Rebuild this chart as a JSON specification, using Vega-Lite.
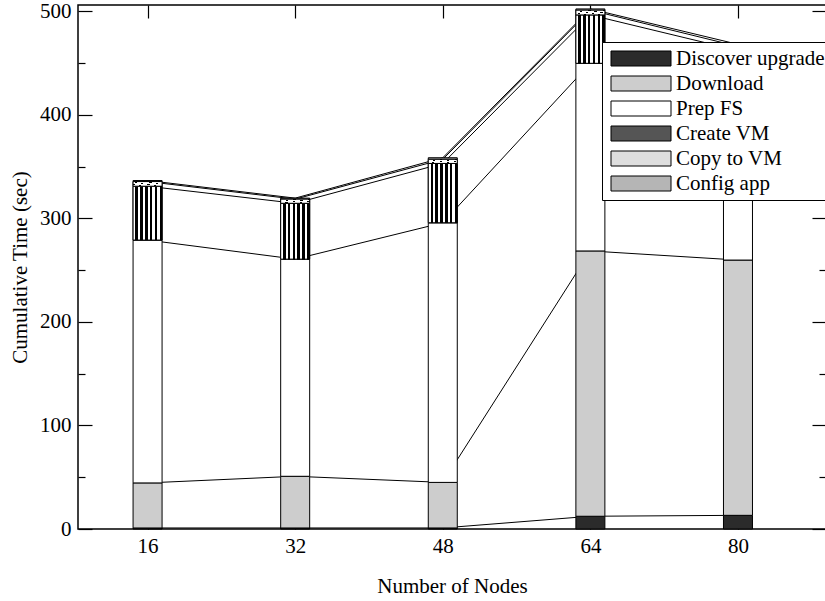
{
  "$schema": "https://vega.github.io/schema/vega-lite/v6.json",
  "width": 748,
  "height": 524,
  "autosize": "none",
  "padding": {"left": 78, "top": 5, "right": 0, "bottom": 72},
  "background": "white",
  "config": {
    "font": "Liberation Serif",
    "view": {"stroke": "black", "strokeWidth": 1.5},
    "axis": {
      "labelFont": "Liberation Serif",
      "labelFontSize": 21,
      "labelColor": "black",
      "titleFont": "Liberation Serif",
      "titleFontSize": 21,
      "titleFontWeight": "normal",
      "titleColor": "black",
      "tickColor": "black",
      "tickWidth": 1.2,
      "domain": false,
      "grid": false
    },
    "legend": {
      "labelFont": "Liberation Serif",
      "labelFontSize": 21,
      "labelColor": "black"
    }
  },
  "data": {
    "values": [
      {"nodes": 16, "stage": "Discover upgrade", "step": 1, "sec": 1},
      {"nodes": 16, "stage": "Download", "step": 2, "sec": 43.5},
      {"nodes": 16, "stage": "Prep FS", "step": 3, "sec": 234.5},
      {"nodes": 16, "stage": "Create VM", "step": 4, "sec": 52},
      {"nodes": 16, "stage": "Copy to VM", "step": 5, "sec": 4.5},
      {"nodes": 16, "stage": "Config app", "step": 6, "sec": 1},
      {"nodes": 32, "stage": "Discover upgrade", "step": 1, "sec": 1},
      {"nodes": 32, "stage": "Download", "step": 2, "sec": 49.9},
      {"nodes": 32, "stage": "Prep FS", "step": 3, "sec": 209.7},
      {"nodes": 32, "stage": "Create VM", "step": 4, "sec": 53.9},
      {"nodes": 32, "stage": "Copy to VM", "step": 5, "sec": 4},
      {"nodes": 32, "stage": "Config app", "step": 6, "sec": 1},
      {"nodes": 48, "stage": "Discover upgrade", "step": 1, "sec": 1},
      {"nodes": 48, "stage": "Download", "step": 2, "sec": 44},
      {"nodes": 48, "stage": "Prep FS", "step": 3, "sec": 250.7},
      {"nodes": 48, "stage": "Create VM", "step": 4, "sec": 57.3},
      {"nodes": 48, "stage": "Copy to VM", "step": 5, "sec": 4},
      {"nodes": 48, "stage": "Config app", "step": 6, "sec": 1.5},
      {"nodes": 64, "stage": "Discover upgrade", "step": 1, "sec": 12.3},
      {"nodes": 64, "stage": "Download", "step": 2, "sec": 256.2},
      {"nodes": 64, "stage": "Prep FS", "step": 3, "sec": 181.2},
      {"nodes": 64, "stage": "Create VM", "step": 4, "sec": 46.7},
      {"nodes": 64, "stage": "Copy to VM", "step": 5, "sec": 4.6},
      {"nodes": 64, "stage": "Config app", "step": 6, "sec": 1.2},
      {"nodes": 80, "stage": "Discover upgrade", "step": 1, "sec": 13.2},
      {"nodes": 80, "stage": "Download", "step": 2, "sec": 246.5},
      {"nodes": 80, "stage": "Prep FS", "step": 3, "sec": 158.3},
      {"nodes": 80, "stage": "Create VM", "step": 4, "sec": 44},
      {"nodes": 80, "stage": "Copy to VM", "step": 5, "sec": 4},
      {"nodes": 80, "stage": "Config app", "step": 6, "sec": 2}
    ]
  },
  "transform": [
    {"stack": "sec", "groupby": ["nodes"], "sort": [{"field": "step", "order": "ascending"}], "as": ["y0", "y1"]}
  ],
  "resolve": {"axis": {"x": "independent", "y": "independent"}},
  "layer": [
    {
      "mark": {"type": "line", "stroke": "black", "strokeWidth": 1},
      "encoding": {
        "x": {
          "field": "nodes", "type": "quantitative",
          "scale": {"domain": [9, 89], "nice": false, "zero": false},
          "axis": {"orient": "bottom", "values": [16, 32, 48, 64, 80], "tickSize": -13, "labelPadding": 19, "title": "Number of Nodes", "titlePadding": 19}
        },
        "y": {
          "field": "y1", "type": "quantitative",
          "scale": {"domain": [0, 506], "nice": false},
          "axis": {
            "orient": "left",
            "values": [0, 50, 100, 150, 200, 250, 300, 350, 400, 450, 500],
            "labelExpr": "datum.value % 100 === 0 ? datum.label : ''",
            "tickSize": {"condition": {"test": "datum.value % 100 === 0", "value": -14}, "value": -7},
            "labelPadding": 21,
            "title": "Cumulative Time (sec)",
            "titlePadding": 9
          }
        },
        "detail": {"field": "stage"}
      }
    },
    {
      "mark": {"type": "bar", "width": 29, "stroke": "black", "strokeWidth": 1},
      "encoding": {
        "x": {
          "field": "nodes", "type": "quantitative",
          "axis": {"orient": "top", "values": [16, 32, 48, 64, 80], "tickSize": -13, "labels": false, "title": null}
        },
        "y": {
          "field": "y0", "type": "quantitative",
          "axis": {
            "orient": "right",
            "values": [0, 50, 100, 150, 200, 250, 300, 350, 400, 450, 500],
            "tickSize": {"condition": {"test": "datum.value % 100 === 0", "value": -14}, "value": -7},
            "labels": false,
            "title": null
          }
        },
        "y2": {"field": "y1"},
        "fill": {
          "field": "stage", "type": "nominal",
          "scale": {
            "domain": ["Discover upgrade", "Download", "Prep FS", "Create VM", "Copy to VM", "Config app"],
            "range": ["#2b2b2b", "#cdcdcd", "#ffffff", "#555555", "#dedede", "#b5b5b5"]
          },
          "legend": {
            "orient": "none",
            "legendX": 524,
            "legendY": 37,
            "title": null,
            "fillColor": "white",
            "strokeColor": "black",
            "padding": 6,
            "rowPadding": 3,
            "symbolType": "M-1,-1H7V1H-1Z",
            "symbolSize": 225,
            "symbolStrokeColor": "black",
            "symbolStrokeWidth": 1,
            "symbolOpacity": 1,
            "labelOffset": 47,
            "labelLimit": 300
          }
        }
      }
    },
    {
      "transform": [{"filter": "datum.stage === 'Create VM'"}],
      "mark": {
        "type": "bar", "width": 29, "stroke": "black", "strokeWidth": 1,
        "fill": {"gradient": "linear", "x1": 0, "y1": 0, "x2": 1, "y2": 0, "stops": [
          {"offset": 0, "color": "white"}, {"offset": 0.08, "color": "white"}, {"offset": 0.08, "color": "black"}, {"offset": 0.1667, "color": "black"}, {"offset": 0.1667, "color": "white"},
          {"offset": 0.2467, "color": "white"}, {"offset": 0.2467, "color": "black"}, {"offset": 0.3333, "color": "black"}, {"offset": 0.3333, "color": "white"},
          {"offset": 0.4133, "color": "white"}, {"offset": 0.4133, "color": "black"}, {"offset": 0.5, "color": "black"}, {"offset": 0.5, "color": "white"},
          {"offset": 0.58, "color": "white"}, {"offset": 0.58, "color": "black"}, {"offset": 0.6667, "color": "black"}, {"offset": 0.6667, "color": "white"},
          {"offset": 0.7467, "color": "white"}, {"offset": 0.7467, "color": "black"}, {"offset": 0.8333, "color": "black"}, {"offset": 0.8333, "color": "white"},
          {"offset": 0.9133, "color": "white"}, {"offset": 0.9133, "color": "black"}, {"offset": 1, "color": "black"}
        ]}
      },
      "encoding": {
        "x": {"field": "nodes", "type": "quantitative", "axis": null},
        "y": {"field": "y0", "type": "quantitative", "axis": null},
        "y2": {"field": "y1"}
      }
    },
    {
      "transform": [{"filter": "datum.stage === 'Copy to VM'"}],
      "mark": {
        "type": "bar", "width": 29, "stroke": "black", "strokeWidth": 1,
        "fill": {"gradient": "linear", "x1": 0, "y1": 1, "x2": 1, "y2": 0, "stops": [
          {"offset": 0, "color": "white"}, {"offset": 0.18, "color": "white"}, {"offset": 0.18, "color": "black"}, {"offset": 0.22, "color": "black"}, {"offset": 0.22, "color": "white"},
          {"offset": 0.43, "color": "white"}, {"offset": 0.43, "color": "black"}, {"offset": 0.47, "color": "black"}, {"offset": 0.47, "color": "white"},
          {"offset": 0.68, "color": "white"}, {"offset": 0.68, "color": "black"}, {"offset": 0.72, "color": "black"}, {"offset": 0.72, "color": "white"},
          {"offset": 0.93, "color": "white"}, {"offset": 0.93, "color": "black"}, {"offset": 0.97, "color": "black"}, {"offset": 0.97, "color": "white"}, {"offset": 1, "color": "white"}
        ]}
      },
      "encoding": {
        "x": {"field": "nodes", "type": "quantitative", "axis": null},
        "y": {"field": "y0", "type": "quantitative", "axis": null},
        "y2": {"field": "y1"}
      }
    }
  ]
}
